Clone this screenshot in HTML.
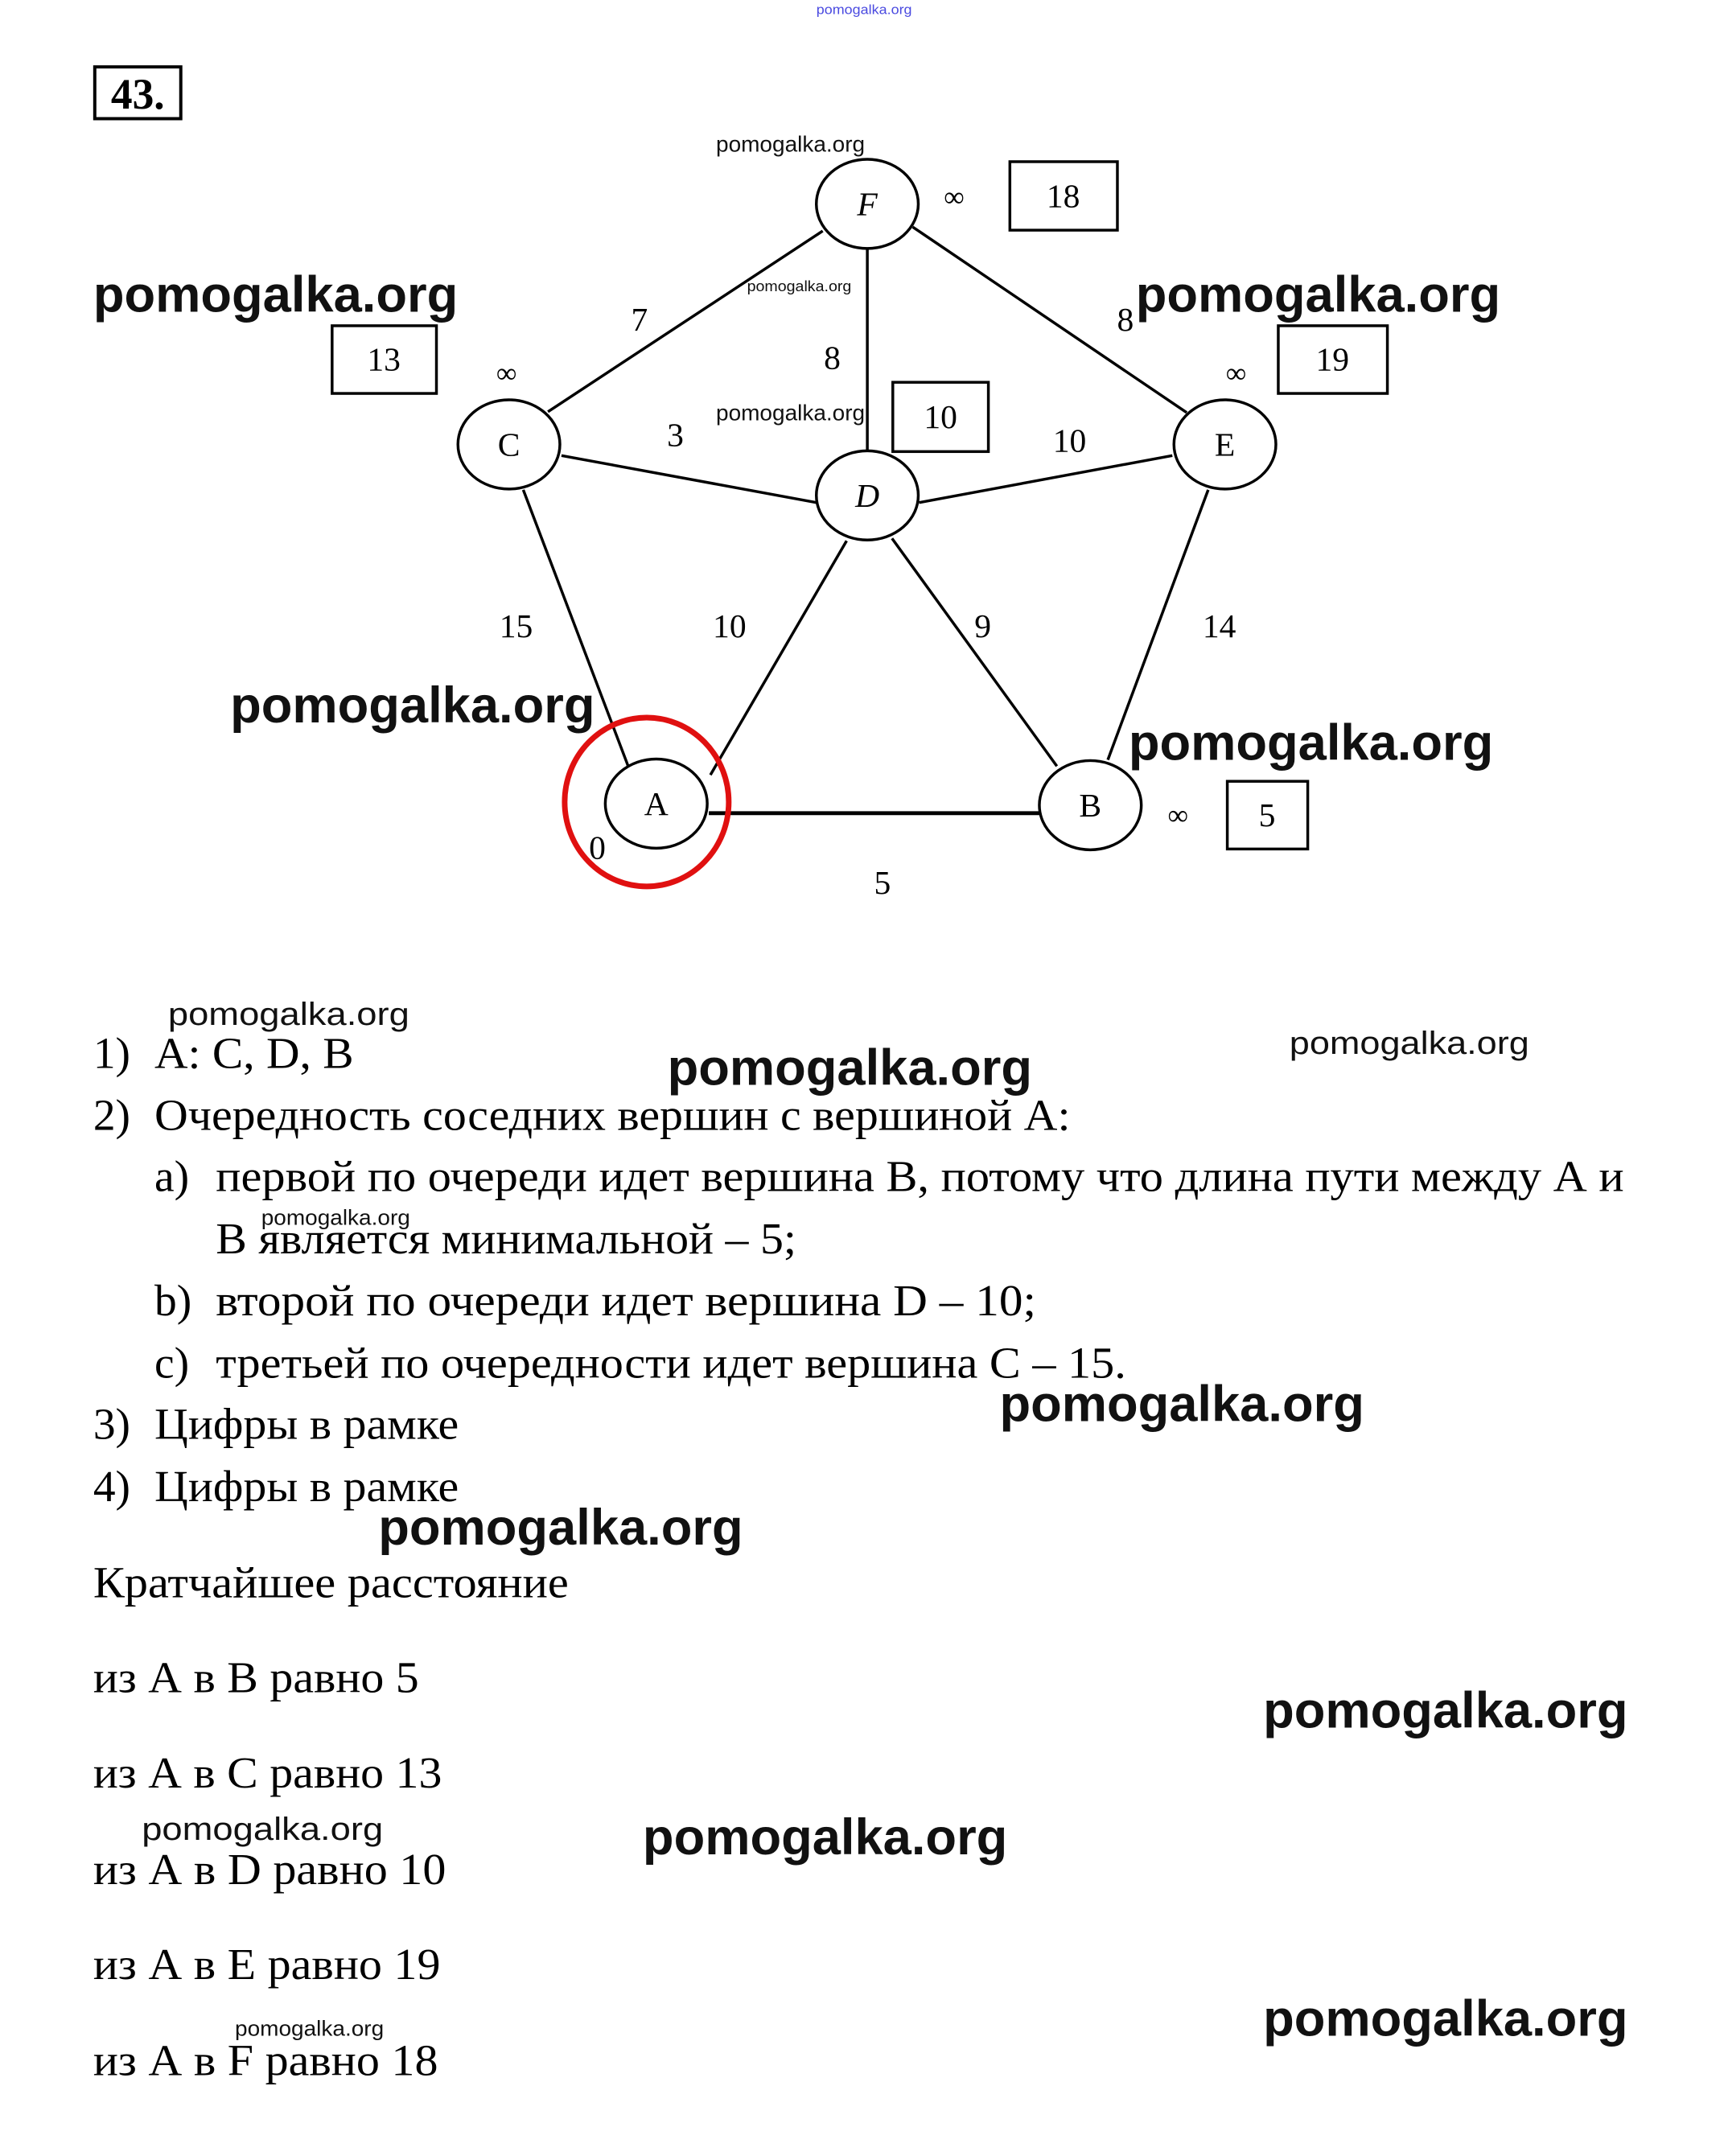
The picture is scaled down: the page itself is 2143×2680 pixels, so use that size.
<!DOCTYPE html>
<html><head><meta charset="utf-8"><style>
html,body{margin:0;padding:0;background:#fff;}
svg{display:block;}
</style></head><body>
<svg width="2143" height="2680" viewBox="0 0 2143 2680" xmlns="http://www.w3.org/2000/svg">
<rect width="2143" height="2680" fill="#fff"/>
<g transform="scale(0.99)">
<text x="1085" y="12" font-family="Liberation Sans, sans-serif" font-size="17" fill="#4a4ae0" text-anchor="middle" dominant-baseline="central" textLength="120" lengthAdjust="spacingAndGlyphs">pomogalka.org</text>
<rect x="119" y="84" width="108" height="65" fill="none" stroke="#000" stroke-width="4"/>
<text x="173" y="118" font-family="Liberation Serif, serif" font-size="54" font-weight="bold" text-anchor="middle" dominant-baseline="central">43.</text>
<g stroke="#000" stroke-width="3.5" fill="none">
<line x1="1033" y1="290" x2="688" y2="517"/>
<line x1="1089" y1="313" x2="1089" y2="570"/>
<line x1="1146" y1="285" x2="1490" y2="518"/>
<line x1="705" y1="572" x2="1025" y2="631"/>
<line x1="1154" y1="631" x2="1472" y2="572"/>
<line x1="657" y1="615" x2="791" y2="968"/>
<line x1="1063" y1="679" x2="892" y2="973"/>
<line x1="1120" y1="676" x2="1327" y2="962"/>
<line x1="1517" y1="615" x2="1391" y2="954"/>
<line x1="890" y1="1021" x2="1305" y2="1021" stroke-width="5"/>
</g>
<g stroke="#000" stroke-width="3.5" fill="#fff">
<ellipse cx="1089" cy="256" rx="64" ry="56"/>
<ellipse cx="639" cy="558" rx="64" ry="56"/>
<ellipse cx="1089" cy="622" rx="64" ry="56"/>
<ellipse cx="1538" cy="558" rx="64" ry="56"/>
<ellipse cx="824" cy="1009" rx="64" ry="56"/>
<ellipse cx="1369" cy="1011" rx="64" ry="56"/>
</g>
<ellipse cx="812" cy="1007" rx="103" ry="106" fill="none" stroke="#e01010" stroke-width="7"/>
<g font-family="Liberation Serif, serif" font-size="42" text-anchor="middle" dominant-baseline="central">
<text x="1089" y="256" font-style="italic">F</text>
<text x="639" y="558">C</text>
<text x="1089" y="622" font-style="italic">D</text>
<text x="1538" y="558">E</text>
<text x="824" y="1009">A</text>
<text x="1369" y="1011">B</text>
<text x="803" y="401">7</text>
<text x="1045" y="449">8</text>
<text x="1413" y="401">8</text>
<text x="848" y="546">3</text>
<text x="1343" y="553">10</text>
<text x="648" y="786">15</text>
<text x="916" y="786">10</text>
<text x="1234" y="786">9</text>
<text x="1531" y="786">14</text>
<text x="750" y="1064">0</text>
<text x="1108" y="1108">5</text>
<text x="1198" y="247" font-size="36">∞</text>
<text x="636" y="468" font-size="36">∞</text>
<text x="1552" y="468" font-size="36">∞</text>
<text x="1479" y="1023" font-size="36">∞</text>
</g>
<g stroke="#000" stroke-width="3.5" fill="none">
<rect x="1268" y="203" width="135" height="86"/>
<rect x="417" y="409" width="131" height="85"/>
<rect x="1605" y="409" width="137" height="85"/>
<rect x="1121" y="480" width="120" height="87"/>
<rect x="1541" y="981" width="101" height="85"/>
</g>
<g font-family="Liberation Serif, serif" font-size="42" text-anchor="middle" dominant-baseline="central">
<text x="1335" y="246">18</text>
<text x="482" y="451">13</text>
<text x="1673" y="451">19</text>
<text x="1181" y="523">10</text>
<text x="1591" y="1023">5</text>
</g>
<g font-family="Liberation Serif, serif" font-size="56" dominant-baseline="central" fill="#000">
<text x="117" y="1322">1)</text><text x="194" y="1322" textLength="250" lengthAdjust="spacingAndGlyphs">A: C, D, B</text>
<text x="117" y="1400">2)</text><text x="194" y="1400" textLength="1150" lengthAdjust="spacingAndGlyphs">Очередность соседних вершин с вершиной А:</text>
<text x="194" y="1477">a)</text><text x="271" y="1477" textLength="1768" lengthAdjust="spacingAndGlyphs">первой по очереди идет вершина В, потому что длина пути между А и</text>
<text x="271" y="1555" textLength="729" lengthAdjust="spacingAndGlyphs">В является минимальной – 5;</text>
<text x="194" y="1633">b)</text><text x="271" y="1633" textLength="1030" lengthAdjust="spacingAndGlyphs">второй по очереди идет вершина D  – 10;</text>
<text x="194" y="1711">c)</text><text x="271" y="1711" textLength="1143" lengthAdjust="spacingAndGlyphs">третьей по очередности идет вершина С – 15.</text>
<text x="117" y="1788">3)</text><text x="194" y="1788" textLength="382" lengthAdjust="spacingAndGlyphs">Цифры в рамке</text>
<text x="117" y="1866">4)</text><text x="194" y="1866" textLength="382" lengthAdjust="spacingAndGlyphs">Цифры в рамке</text>
<text x="117" y="1987" textLength="597" lengthAdjust="spacingAndGlyphs">Кратчайшее расстояние</text>
<text x="117" y="2106" textLength="409" lengthAdjust="spacingAndGlyphs">из А в В равно 5</text>
<text x="117" y="2226" textLength="438" lengthAdjust="spacingAndGlyphs">из А в С равно 13</text>
<text x="117" y="2347" textLength="443" lengthAdjust="spacingAndGlyphs">из А в D равно 10</text>
<text x="117" y="2466" textLength="436" lengthAdjust="spacingAndGlyphs">из А в Е равно 19</text>
<text x="117" y="2587" textLength="433" lengthAdjust="spacingAndGlyphs">из А в F равно 18</text>
</g>
<g font-family="Liberation Sans, sans-serif" font-weight="bold" font-size="64" dominant-baseline="central" fill="#111">
<text x="117" y="370" textLength="458" lengthAdjust="spacingAndGlyphs">pomogalka.org</text>
<text x="1426" y="370" textLength="458" lengthAdjust="spacingAndGlyphs">pomogalka.org</text>
<text x="289" y="886" textLength="458" lengthAdjust="spacingAndGlyphs">pomogalka.org</text>
<text x="1417" y="933" textLength="458" lengthAdjust="spacingAndGlyphs">pomogalka.org</text>
<text x="838" y="1341" textLength="458" lengthAdjust="spacingAndGlyphs">pomogalka.org</text>
<text x="1255" y="1763" textLength="458" lengthAdjust="spacingAndGlyphs">pomogalka.org</text>
<text x="475" y="1918" textLength="458" lengthAdjust="spacingAndGlyphs">pomogalka.org</text>
<text x="1586" y="2148" textLength="458" lengthAdjust="spacingAndGlyphs">pomogalka.org</text>
<text x="807" y="2307" textLength="458" lengthAdjust="spacingAndGlyphs">pomogalka.org</text>
<text x="1586" y="2535" textLength="458" lengthAdjust="spacingAndGlyphs">pomogalka.org</text>
</g>
<g font-family="Liberation Sans, sans-serif" dominant-baseline="central" fill="#111">
<text x="899" y="181" font-size="28" textLength="187" lengthAdjust="spacingAndGlyphs">pomogalka.org</text>
<text x="899" y="518" font-size="28" textLength="187" lengthAdjust="spacingAndGlyphs">pomogalka.org</text>
<text x="211" y="1274" font-size="40" textLength="303" lengthAdjust="spacingAndGlyphs">pomogalka.org</text>
<text x="1619" y="1310" font-size="40" textLength="301" lengthAdjust="spacingAndGlyphs">pomogalka.org</text>
<text x="178" y="2297" font-size="40" textLength="303" lengthAdjust="spacingAndGlyphs">pomogalka.org</text>
<text x="938" y="359" font-size="19" textLength="131" lengthAdjust="spacingAndGlyphs">pomogalka.org</text>
<text x="328" y="1529" font-size="27" textLength="187" lengthAdjust="spacingAndGlyphs">pomogalka.org</text>
<text x="295" y="2547" font-size="27" textLength="187" lengthAdjust="spacingAndGlyphs">pomogalka.org</text>
</g>
</g>
</svg>
</body></html>
